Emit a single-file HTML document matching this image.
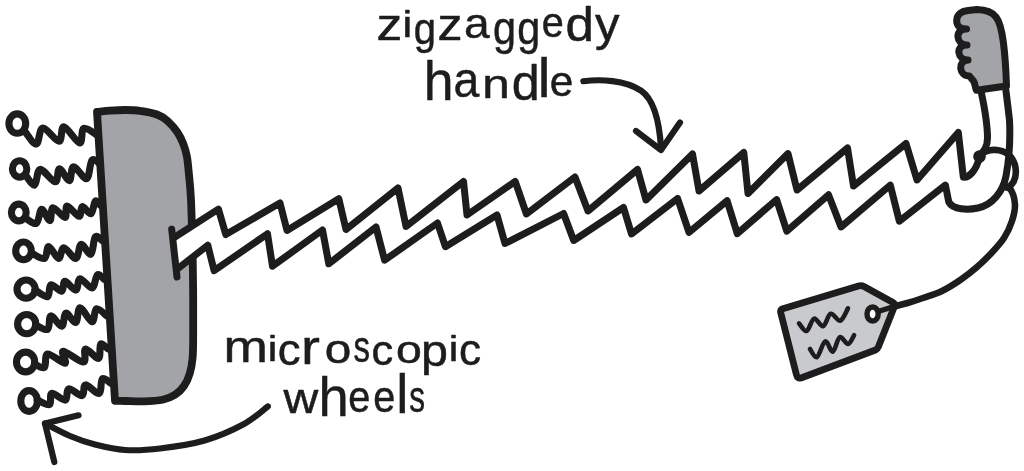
<!DOCTYPE html>
<html><head><meta charset="utf-8"><style>
html,body{margin:0;padding:0;background:#fff;width:1024px;height:471px;overflow:hidden}
svg{display:block}
text{font-family:"Liberation Sans",sans-serif;fill:#1d1d1d;stroke:#1d1d1d;stroke-width:0.5;stroke-linejoin:round}
</style></head><body>
<svg width="1024" height="471" viewBox="0 0 1024 471">
<rect width="1024" height="471" fill="#fff"/>
<g fill="none" stroke="#1d1d1d" stroke-linecap="round" stroke-linejoin="round">
<g stroke-width="7.1">
<path d="M25.7,123.6 A8.4,9.7 0 1 1 8.9,123.6 A8.4,9.7 0 1 1 25.7,123.6 Z"/><path d="M24.5,131.0 C26.5,133.2 33.2,144.5 36.3,144.0 C39.3,143.5 39.0,128.4 42.8,128.0 C46.6,127.5 55.5,141.5 59.0,141.3 C62.5,141.1 60.5,126.4 63.9,126.7 C67.3,127.0 76.3,142.6 79.6,142.9 C82.9,143.2 80.8,129.5 83.9,128.3 C87.1,127.2 96.1,134.7 98.5,136.0"/>
<path d="M26.8,168.9 A7.2,8.2 0 1 1 12.4,168.9 A7.2,8.2 0 1 1 26.8,168.9 Z"/><path d="M25.5,175.0 C27.0,176.7 32.2,186.0 34.6,185.1 C37.0,184.2 36.7,169.9 40.1,169.4 C43.5,168.9 52.0,181.9 55.2,181.8 C58.4,181.7 57.1,169.0 59.5,168.8 C61.9,168.6 67.0,181.0 69.3,180.7 C71.6,180.3 70.7,167.0 73.6,166.7 C76.5,166.3 83.5,179.7 86.6,178.6 C89.7,177.5 89.7,162.5 92.0,160.2 C94.3,157.8 99.2,163.8 100.7,164.5"/>
<path d="M26.2,212.5 A7.4,8.4 0 1 1 11.4,212.5 A7.4,8.4 0 1 1 26.2,212.5 Z"/><path d="M25.5,218.0 C27.3,218.9 33.6,224.8 36.3,223.4 C39.0,222.0 39.5,209.8 41.7,209.3 C44.0,208.8 47.9,220.9 49.8,220.6 C51.7,220.3 50.5,208.2 53.0,207.7 C55.5,207.2 62.6,217.7 65.0,217.4 C67.3,217.1 64.8,206.2 67.1,206.0 C69.4,205.8 76.5,216.2 79.0,216.3 C81.5,216.4 80.3,207.1 82.3,206.6 C84.3,206.1 88.8,214.5 91.0,213.6 C93.2,212.7 93.7,202.5 95.3,201.2 C96.9,199.8 99.6,204.8 100.5,205.5"/>
<path d="M31.3,250.9 A7.8,8.9 0 1 1 15.7,250.9 A7.8,8.9 0 1 1 31.3,250.9 Z"/><path d="M31.5,253.0 C33.6,253.9 41.5,259.6 44.4,258.5 C47.3,257.4 46.4,246.6 48.7,246.6 C51.1,246.6 56.0,258.3 58.5,258.5 C61.0,258.7 61.0,247.7 63.9,247.7 C66.8,247.7 72.9,259.1 75.8,258.5 C78.7,257.9 78.7,245.1 81.2,244.4 C83.7,243.7 88.6,255.5 90.9,254.2 C93.2,252.9 93.3,239.0 95.3,236.8 C97.3,234.6 101.6,240.5 102.9,241.2"/>
<path d="M35.2,289.1 A9.1,9.1 0 1 1 17.0,289.1 A9.1,9.1 0 1 1 35.2,289.1 Z"/><path d="M35.0,290.0 C37.1,291.1 45.0,297.5 47.6,296.6 C50.2,295.7 48.5,285.6 50.9,284.7 C53.2,283.8 59.4,291.8 61.7,291.2 C64.0,290.6 62.6,281.6 65.0,281.4 C67.3,281.2 73.3,290.6 75.8,290.1 C78.3,289.7 77.4,279.1 80.1,278.7 C82.8,278.3 89.1,288.5 92.0,287.9 C94.9,287.3 95.4,276.3 97.4,274.9 C99.4,273.4 102.9,278.5 104.0,279.2"/>
<path d="M35.8,324.1 A9.1,9.6 0 1 1 17.6,324.1 A9.1,9.6 0 1 1 35.8,324.1 Z"/><path d="M35.5,325.0 C37.5,325.7 45.0,330.9 47.6,329.4 C50.2,327.9 48.5,316.4 50.9,315.9 C53.2,315.4 59.2,326.6 61.7,326.2 C64.2,325.8 63.6,313.8 66.0,313.2 C68.3,312.6 73.5,323.3 75.8,322.4 C78.1,321.5 77.4,307.8 80.1,307.7 C82.8,307.6 89.3,321.6 92.0,321.8 C94.7,322.0 93.9,309.8 96.4,308.8 C98.9,307.8 105.2,314.8 107.0,316.0"/>
<path d="M34.7,362.0 A9.1,9.9 0 1 1 16.5,362.0 A9.1,9.9 0 1 1 34.7,362.0 Z"/><path d="M34.5,364.0 C36.1,364.6 42.2,369.2 44.4,367.5 C46.6,365.8 44.2,354.7 47.6,354.0 C51.0,353.3 62.4,363.7 65.0,363.2 C67.6,362.7 60.2,351.4 63.3,351.2 C66.4,351.0 79.7,362.4 83.4,362.0 C87.1,361.6 83.0,349.7 85.5,349.1 C88.0,348.5 96.0,359.1 98.5,358.3 C101.0,357.5 99.1,345.7 100.7,344.2 C102.3,342.7 107.0,348.3 108.3,349.1"/>
<path d="M37.4,401.0 A8.3,10.4 0 1 1 20.8,401.0 A8.3,10.4 0 1 1 37.4,401.0 Z"/><path d="M37.2,400.0 C39.2,400.8 47.1,405.7 49.5,404.6 C51.9,403.5 49.2,394.1 51.8,393.4 C54.4,392.6 62.5,400.9 65.3,400.1 C68.1,399.4 65.8,389.6 68.6,388.9 C71.4,388.1 79.3,396.3 82.1,395.6 C84.9,394.9 82.7,385.3 85.5,384.9 C88.3,384.5 96.2,394.4 99.0,393.4 C101.8,392.4 100.4,380.5 102.4,378.8 C104.4,377.1 109.6,382.6 111.0,383.3"/>
</g>
<path d="M97.0,112.0 C99.2,111.8 105.3,110.9 110.0,110.6 C114.7,110.3 120.0,110.0 125.0,110.0 C130.0,110.0 134.7,110.0 140.0,110.8 C145.3,111.5 152.3,112.8 157.0,114.5 C161.7,116.2 164.6,118.3 168.0,121.3 C171.4,124.3 174.8,128.5 177.4,132.3 C180.0,136.1 181.8,140.1 183.4,144.2 C185.0,148.3 186.1,151.9 187.0,157.0 C187.9,162.1 188.3,167.8 189.0,175.0 C189.7,182.2 190.4,187.5 191.0,200.0 C191.6,212.5 192.1,233.3 192.5,250.0 C192.9,266.7 193.1,285.8 193.2,300.0 C193.3,314.2 193.3,325.3 193.2,335.0 C193.1,344.7 193.2,351.6 192.6,358.0 C192.0,364.4 191.2,368.8 189.8,373.5 C188.4,378.2 186.5,382.4 184.0,386.0 C181.5,389.6 178.6,392.5 175.0,394.8 C171.4,397.1 167.8,398.7 162.6,399.8 C157.3,400.9 149.8,401.2 143.5,401.4 C137.2,401.6 129.8,401.1 125.0,401.0 C120.2,400.9 116.7,400.8 115.0,400.8 Z" fill="#a3a4a8" stroke-width="7.8"/>
<path d="M173.8,237.8 L218.4,209.1 L225.8,234.6 L280.0,203.0 L287.0,230.5 L338.8,198.8 L346.0,229.5 L398.0,188.0 L406.0,226.4 L463.5,181.4 L467.0,215.0 L515.2,181.4 L526.4,214.0 L575.0,177.0 L588.0,211.0 L637.5,169.5 L646.0,200.0 L692.5,154.0 L699.0,191.0 L743.8,152.5 L748.0,193.5 L788.0,153.6 L797.0,190.0 L847.5,148.0 L853.5,186.0 L906.0,143.5 L917.0,180.0 L958.3,132.5 L963.3,177.0 L978,156 L1006,176 L948.8,202.0 L945.4,185.1 L899.3,221.2 L890.3,185.1 L841.0,227.0 L828.5,194.8 L786.8,231.1 L776.6,199.6 L737.3,233.6 L727.1,200.8 L689.0,232.4 L677.6,198.5 L631.5,234.0 L623.5,207.5 L573.7,240.5 L563.6,213.5 L505.0,243.5 L497.0,215.0 L445.4,246.7 L437.5,223.0 L384.6,260.2 L376.0,227.0 L328.8,263.8 L322.5,230.0 L272.5,266.2 L267.5,233.8 L214.1,270.7 L207.8,245.2 L178.0,268.6 Z" fill="#fff" stroke="none"/>
<path d="M173.8,237.8 L218.4,209.1 L225.8,234.6 L280.0,203.0 L287.0,230.5 L338.8,198.8 L346.0,229.5 L398.0,188.0 L406.0,226.4 L463.5,181.4 L467.0,215.0 L515.2,181.4 L526.4,214.0 L575.0,177.0 L588.0,211.0 L637.5,169.5 L646.0,200.0 L692.5,154.0 L699.0,191.0 L743.8,152.5 L748.0,193.5 L788.0,153.6 L797.0,190.0 L847.5,148.0 L853.5,186.0 L906.0,143.5 L917.0,180.0 L958.3,132.5 L963.3,177.0 C968,178 976,172 979.5,157" stroke-width="7"/>
<path d="M178.0,268.6 L207.8,245.2 L214.1,270.7 L267.5,233.8 L272.5,266.2 L322.5,230.0 L328.8,263.8 L376.0,227.0 L384.6,260.2 L437.5,223.0 L445.4,246.7 L497.0,215.0 L505.0,243.5 L563.6,213.5 L573.7,240.5 L623.5,207.5 L631.5,234.0 L677.6,198.5 L689.0,232.4 L727.1,200.8 L737.3,233.6 L776.6,199.6 L786.8,231.1 L828.5,194.8 L841.0,227.0 L890.3,185.1 L899.3,221.2 L945.4,185.1 L948.8,202.0 C953,210 968,210 978,208 C992,205 1003,192 1006,176 C1009,160 1010.5,140 1009.5,120 L1006,91" stroke-width="7"/>
<path d="M171.7,229.3 L177,277" stroke-width="7"/>
<path d="M981,91 C984,105 987.5,125 987.5,138 C987.5,146 984,152 978.6,156" stroke-width="7"/>
<path d="M956.7,20.2 C957,14 962,11 968,10.5 L977,9.6 C985,9.8 992,12 996,17 C1000,22 1002,32 1003.4,42.5 C1005,55 1006,70 1006.5,86 L976.5,90.3 C975,88 975.5,84 973.5,81 C971,78 970,77 969.5,76 C959,76 957,61 968,60 C957,60 955,45 967,45 C956,45 954,29 966.5,29 C960,29 956.5,26 956.7,20.2 Z" fill="#a3a4a8" stroke-width="7"/>
<circle cx="979.5" cy="156.5" r="6.3" fill="#1d1d1d" stroke="none"/>
<path d="M978.6,156 C990,146 1010,148 1015,165 C1018,178 1012,190 1003,186" stroke-width="6.6"/>
<path d="M1004.0,187.0 C1005.2,187.5 1009.2,187.0 1011.0,190.0 C1012.8,193.0 1014.8,199.8 1015.0,205.0 C1015.2,210.2 1013.8,215.5 1012.0,221.0 C1010.2,226.5 1007.5,232.6 1004.0,238.0 C1000.5,243.4 995.5,248.7 991.0,253.5 C986.5,258.3 982.0,262.7 977.0,267.0 C972.0,271.3 966.8,275.5 961.0,279.5 C955.2,283.5 948.3,287.9 942.0,291.0 C935.7,294.1 928.7,296.0 923.0,298.0 C917.3,300.0 913.1,301.4 907.6,303.0 C902.1,304.6 892.9,306.8 890.0,307.5" stroke-width="6.6"/>
<path d="M782,309 Q780,310.5 780.8,313 L796.5,375 Q797.5,379 801,378 L875.5,350 Q877.5,349 878.3,347 L894.2,307 Q895.5,304 893,302.5 L864,286.5 Q861.5,285.2 858.5,286 Z" fill="#c9cacd" stroke-width="6.8"/>
<path d="M878,311.5 L894,306.5" stroke-width="5.5"/>
<ellipse cx="872.6" cy="314" rx="5.6" ry="7" fill="#fff" stroke-width="5.4"/>
<path d="M799.0,323.4 C800.3,324.7 804.1,331.8 806.6,331.0 C809.1,330.2 811.4,319.4 814.1,318.6 C816.9,317.8 820.3,327.0 823.1,326.2 C825.9,325.4 827.8,314.7 830.7,313.8 C833.6,312.9 837.4,321.6 840.3,320.7 C843.2,319.8 846.7,310.4 848.0,308.3" stroke-width="4.6"/>
<path d="M810.0,349.0 C811.1,350.4 814.4,358.5 816.9,357.2 C819.4,355.9 822.6,342.3 825.2,341.4 C827.9,340.5 830.4,352.4 832.8,351.7 C835.2,351.0 837.2,338.5 839.7,337.2 C842.2,335.9 845.6,344.3 848.0,344.0 C850.4,343.7 853.1,336.7 854.1,335.2" stroke-width="4.6"/>
<path d="M583.4,81.25 C600,79 625,80 641,90.6 C652,98 659,115 661,148" stroke-width="6.2"/>
<path d="M636,131 L661,150 L680,122.5" stroke-width="6.2"/>
<path d="M267.8,406.4 C263.8,409.3 254.5,418.3 244.0,424.0 C233.5,429.7 218.6,436.4 204.6,440.5 C190.6,444.6 173.3,446.9 160.0,448.5 C146.7,450.1 135.8,450.7 125.0,450.0 C114.2,449.3 104.2,446.8 95.0,444.5 C85.8,442.2 78.3,439.5 70.0,436.0 C61.7,432.5 49.2,425.6 45.0,423.5" stroke-width="6.2"/>
<path d="M78.5,415.3 L45,423.5 L54.3,462" stroke-width="6.2"/>
</g>
<defs><filter id="gs"><feColorMatrix type="saturate" values="0"/></filter></defs><g filter="url(#gs)"><text><tspan x="376.46" y="39.85" font-size="44.86" textLength="25.75" lengthAdjust="spacingAndGlyphs">z</tspan><tspan x="402.42" y="36.75" font-size="36.30" textLength="9.68" lengthAdjust="spacingAndGlyphs">i</tspan><tspan x="413.77" y="43.66" font-size="44.74" textLength="22.26" lengthAdjust="spacingAndGlyphs">g</tspan><tspan x="437.62" y="39.75" font-size="44.48" textLength="25.02" lengthAdjust="spacingAndGlyphs">z</tspan><tspan x="464.09" y="38.24" font-size="42.16" textLength="25.66" lengthAdjust="spacingAndGlyphs">a</tspan><tspan x="493.01" y="43.52" font-size="45.71" textLength="23.00" lengthAdjust="spacingAndGlyphs">g</tspan><tspan x="517.21" y="43.52" font-size="45.71" textLength="23.00" lengthAdjust="spacingAndGlyphs">g</tspan><tspan x="541.87" y="36.93" font-size="43.26" textLength="22.05" lengthAdjust="spacingAndGlyphs">e</tspan><tspan x="565.60" y="41.27" font-size="48.75" textLength="28.44" lengthAdjust="spacingAndGlyphs">d</tspan><tspan x="595.03" y="39.87" font-size="45.94" textLength="24.52" lengthAdjust="spacingAndGlyphs">y</tspan></text>
<text><tspan x="423.74" y="100.35" font-size="54.93" textLength="29.79" lengthAdjust="spacingAndGlyphs">h</tspan><tspan x="453.58" y="97.07" font-size="49.47" textLength="25.77" lengthAdjust="spacingAndGlyphs">a</tspan><tspan x="482.20" y="98.15" font-size="41.26" textLength="27.53" lengthAdjust="spacingAndGlyphs">n</tspan><tspan x="511.84" y="99.86" font-size="49.70" textLength="27.95" lengthAdjust="spacingAndGlyphs">d</tspan><tspan x="537.72" y="97.05" font-size="54.93" textLength="12.64" lengthAdjust="spacingAndGlyphs">l</tspan><tspan x="549.65" y="95.53" font-size="42.53" textLength="23.59" lengthAdjust="spacingAndGlyphs">e</tspan></text>
<text><tspan x="223.54" y="362.15" font-size="44.42" textLength="44.40" lengthAdjust="spacingAndGlyphs">m</tspan><tspan x="267.78" y="361.05" font-size="35.88" textLength="9.57" lengthAdjust="spacingAndGlyphs">i</tspan><tspan x="277.71" y="364.92" font-size="43.81" textLength="22.85" lengthAdjust="spacingAndGlyphs">c</tspan><tspan x="301.07" y="363.75" font-size="47.39" textLength="18.94" lengthAdjust="spacingAndGlyphs">r</tspan><tspan x="324.67" y="363.36" font-size="39.79" textLength="26.56" lengthAdjust="spacingAndGlyphs">o</tspan><tspan x="353.43" y="362.21" font-size="44.66" textLength="16.51" lengthAdjust="spacingAndGlyphs">s</tspan><tspan x="371.61" y="364.94" font-size="41.80" textLength="21.69" lengthAdjust="spacingAndGlyphs">c</tspan><tspan x="395.94" y="362.77" font-size="38.70" textLength="25.83" lengthAdjust="spacingAndGlyphs">o</tspan><tspan x="421.13" y="365.72" font-size="44.66" textLength="26.96" lengthAdjust="spacingAndGlyphs">p</tspan><tspan x="448.88" y="361.05" font-size="35.88" textLength="9.57" lengthAdjust="spacingAndGlyphs">i</tspan><tspan x="458.97" y="365.41" font-size="44.72" textLength="22.15" lengthAdjust="spacingAndGlyphs">c</tspan></text>
<text><tspan x="283.62" y="413.25" font-size="42.21" textLength="34.81" lengthAdjust="spacingAndGlyphs">w</tspan><tspan x="318.49" y="416.45" font-size="54.93" textLength="30.19" lengthAdjust="spacingAndGlyphs">h</tspan><tspan x="348.37" y="411.82" font-size="43.81" textLength="22.05" lengthAdjust="spacingAndGlyphs">e</tspan><tspan x="373.27" y="411.82" font-size="43.81" textLength="22.05" lengthAdjust="spacingAndGlyphs">e</tspan><tspan x="396.27" y="413.25" font-size="54.93" textLength="12.13" lengthAdjust="spacingAndGlyphs">l</tspan><tspan x="409.17" y="411.81" font-size="44.84" textLength="15.82" lengthAdjust="spacingAndGlyphs">s</tspan></text></g>
</svg>
</body></html>
